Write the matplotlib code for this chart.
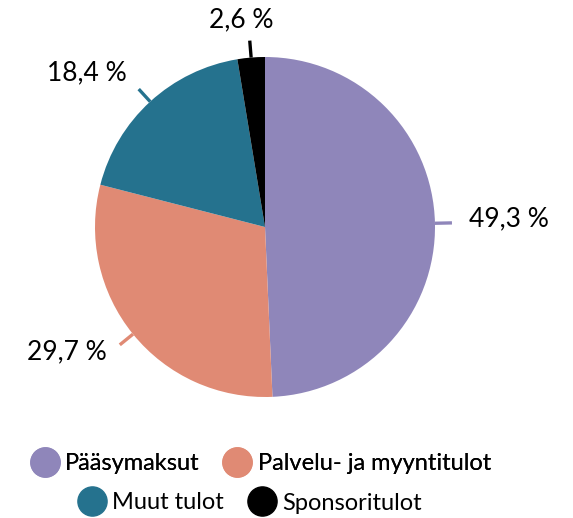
import numpy as np
from matplotlib import pyplot as plt
from matplotlib.lines import Line2D

plt.rcParams['font.family'] = ['Lato', 'DejaVu Sans']

categories = ["Pääsymaksut", "Palvelu- ja myyntitulot", "Muut tulot", "Sponsoritulot"]
shares = [49.3, 29.7, 18.4, 2.6]
labels = ["49,3 %", "29,7 %", "18,4 %", "2,6 %"]
colors = ["#8F86BA", "#E08A74", "#25728E", "#000000"]

fig = plt.figure(figsize=(5.73, 5.18), dpi=100)
# pie centre ~ (265, 227) px, radius ~170 px
ax = fig.add_axes([95 / 573, 1 - 397 / 518, 340 / 573, 340 / 518])
wedges, _ = ax.pie(shares, colors=colors, startangle=90, counterclock=False,
                   radius=1, wedgeprops=dict(linewidth=0))
ax.set_xlim(-1, 1)
ax.set_ylim(-1, 1)
ax.set_aspect('auto')
ax.axis('off')

for w, lab, c in zip(wedges, labels, colors):
    ang = np.deg2rad((w.theta1 + w.theta2) / 2)
    cx, cy = np.cos(ang), np.sin(ang)
    ax.plot([1.0 * cx, 1.1 * cx], [1.0 * cy, 1.1 * cy], color=c, lw=2.4,
            solid_capstyle='butt', clip_on=False)
    if cx > 0.3:
        ha = 'left'
    elif cx < -0.3:
        ha = 'right'
    else:
        ha = 'center'
    ax.text(1.2 * cx - (0.04 if ha == 'center' else 0), 1.2 * cy + 0.02, lab,
            ha=ha, va='center', fontsize=19, color='black', clip_on=False)

def handle(c):
    return Line2D([], [], marker='o', linestyle='none', markersize=21,
                  markerfacecolor=c, markeredgecolor=c)

leg1 = fig.legend([handle(c) for c in colors[:2]], categories[:2], ncol=2,
                  loc='center', bbox_to_anchor=(262 / 573, 1 - 464 / 518),
                  frameon=False, fontsize=17, handletextpad=0.35,
                  columnspacing=1.1, handlelength=1.0)
fig.add_artist(leg1)
fig.legend([handle(c) for c in colors[2:]], categories[2:], ncol=2,
           loc='center', bbox_to_anchor=(251 / 573, 1 - 503 / 518),
           frameon=False, fontsize=17, handletextpad=0.35,
           columnspacing=1.1, handlelength=1.0)

plt.savefig("out.png", dpi=100)
